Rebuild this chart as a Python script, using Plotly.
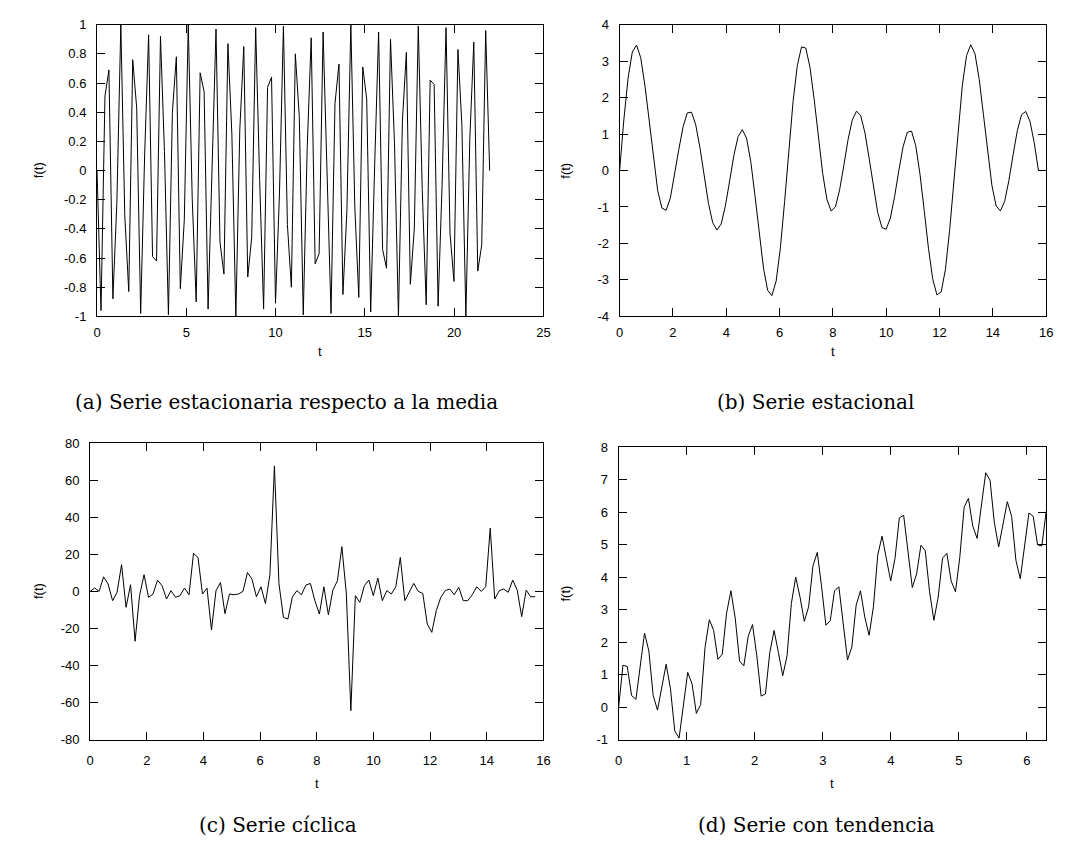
import numpy as np
import plotly.graph_objects as go

# ---------------- data ----------------
# (a) Serie estacionaria respecto a la media : 100 samples on [0, 7*pi]
A_T_END = 21.99
A_VALUES = [
    0, -0.96, 0.51, 0.69, -0.88, -0.22, 1.0, -0.31, -0.83, 0.76,
    0.43, -0.98, 0.10, 0.93, -0.59, -0.62, 0.92, 0.13, -0.99, 0.40,
    0.78, -0.81, -0.34, 1.0, -0.19, -0.90, 0.67, 0.54, -0.95, -0.03,
    0.97, -0.49, -0.71, 0.87, 0.25, -1.0, 0.28, 0.85, -0.73, -0.46,
    0.98, -0.06, -0.95, 0.57, 0.64, -0.91, -0.16, 0.99, -0.37, -0.80,
    0.80, 0.37, -0.99, 0.16, 0.91, -0.64, -0.57, 0.95, 0.06, -0.98,
    0.46, 0.73, -0.85, -0.28, 1.0, -0.25, -0.87, 0.71, 0.49, -0.97,
    0.03, 0.95, -0.54, -0.67, 0.90, 0.19, -1.0, 0.34, 0.81, -0.78,
    -0.40, 0.99, -0.13, -0.92, 0.62, 0.59, -0.93, -0.10, 0.98, -0.43,
    -0.76, 0.83, 0.31, -1.0, 0.22, 0.88, -0.69, -0.51, 0.96, 0,
]

# (b) Serie estacional : 100 samples on [0, 5*pi]
B_T_END = 15.71
B_VALUES = [
    0, 1.39, 2.53, 3.25, 3.44, 3.09, 2.32, 1.31, 0.29, -0.55,
    -1.03, -1.09, -0.75, -0.14, 0.58, 1.20, 1.58, 1.60, 1.25, 0.62,
    -0.16, -0.90, -1.43, -1.63, -1.47, -0.97, -0.29, 0.41, 0.93, 1.12,
    0.89, 0.25, -0.69, -1.73, -2.67, -3.29, -3.43, -3.03, -2.12, -0.85,
    0.57, 1.89, 2.88, 3.39, 3.36, 2.83, 1.94, 0.89, -0.08, -0.79,
    -1.11, -1.00, -0.53, 0.14, 0.85, 1.39, 1.63, 1.50, 1.03, 0.32,
    -0.47, -1.15, -1.56, -1.61, -1.30, -0.71, 0.0, 0.65, 1.05, 1.08,
    0.68, -0.10, -1.10, -2.13, -2.97, -3.41, -3.33, -2.72, -1.64, -0.29,
    1.12, 2.33, 3.15, 3.45, 3.20, 2.50, 1.53, 0.48, -0.41, -0.97,
    -1.11, -0.85, -0.28, 0.43, 1.09, 1.53, 1.62, 1.35, 0.76, 0.0,
]

# (c) Serie cíclica : 100 samples on [0, 5*pi]
C_T_END = 15.71
C_VALUES = [
    0, 1.8, 0, 7.9, 4.0, -5.0, -0.5, 14.4, -8.6, 3.6,
    -26.9, -2.3, 9.0, -3.2, -1.4, 6.1, 3.1, -4.1, 0.4, -3.2,
    -2.3, 1.8, -1.8, 20.5, 18.3, -1.4, 1.8, -20.8, 0.4, 4.8,
    -12.0, -1.4, -1.8, -1.4, 0, 10.2, 6.6, -2.9, 2.5, -6.5,
    9.0, 67.7, 4.3, -14.0, -14.9, -2.9, 0.4, -1.8, 3.4, 4.3,
    -5.0, -12.2, 2.5, -12.6, 0.7, 5.7, 24.1, -1.4, -64.3, -2.3,
    -5.9, 3.1, 6.1, -2.3, 7.2, -5.0, 0.4, -1.4, 2.5, 18.3,
    -5.0, 0, 4.3, 0, -1.1, -17.6, -22.1, -10.4, -3.2, 0.4,
    1.3, -1.8, 2.2, -5.0, -5.0, -1.8, 2.5, 0, 2.5, 34.1,
    -4.1, 0.4, 1.3, -0.5, 6.1, 0.7, -13.6, 0.7, -2.9, -2.9,
]

# (d) Serie con tendencia : 100 samples on [0, 2*pi]
D_T_END = 6.2832
D_VALUES = [
    0, 1.29, 1.25, 0.36, 0.24, 1.27, 2.28, 1.73, 0.36, -0.09,
    0.67, 1.32, 0.57, -0.73, -0.95, 0.12, 1.07, 0.72, -0.19, 0.08,
    1.83, 2.69, 2.36, 1.47, 1.63, 2.89, 3.58, 2.74, 1.42, 1.27,
    2.18, 2.54, 1.58, 0.34, 0.41, 1.68, 2.36, 1.68, 0.97, 1.58,
    3.19, 4.0, 3.39, 2.64, 3.09, 4.35, 4.76, 3.70, 2.52, 2.66,
    3.58, 3.70, 2.48, 1.45, 1.85, 3.14, 3.58, 2.77, 2.21, 3.09,
    4.68, 5.26, 4.56, 3.88, 4.58, 5.82, 5.90, 4.81, 3.68, 4.10,
    4.98, 4.81, 3.55, 2.67, 3.39, 4.58, 4.73, 3.88, 3.55, 4.61,
    6.15, 6.42, 5.57, 5.19, 6.22, 7.21, 6.98, 5.67, 4.93, 5.57,
    6.32, 5.87, 4.51, 3.95, 4.91, 5.97, 5.87, 4.99, 4.96, 6.02,
]

# tick labels
A_XTICKS = [0, 5, 10, 15, 20, 25]
A_YTICKS = [1, 0.8, 0.6, 0.4, 0.2, 0, -0.2, -0.4, -0.6, -0.8, -1]
A_YTEXT = ["1", "0.8", "0.6", "0.4", "0.2", "0", "-0.2", "-0.4", "-0.6", "-0.8", "-1"]
B_XTICKS = [0, 2, 4, 6, 8, 10, 12, 14, 16]
B_YTICKS = [4, 3, 2, 1, 0, -1, -2, -3, -4]
B_YTEXT = ["4", "3", "2", "1", "0", "-1", "-2", "-3", "-4"]
C_XTICKS = [0, 2, 4, 6, 8, 10, 12, 14, 16]
C_YTICKS = [80, 60, 40, 20, 0, -20, -40, -60, -80]
C_YTEXT = ["80", "60", "40", "20", "0", "-20", "-40", "-60", "-80"]
D_XTICKS = [0, 1, 2, 3, 4, 5, 6]
D_YTICKS = [8, 7, 6, 5, 4, 3, 2, 1, 0, -1]
D_YTEXT = ["8", "7", "6", "5", "4", "3", "2", "1", "0", "-1"]

CAPTIONS = ["(a) Serie estacionaria respecto a la media", "(b) Serie estacional",
            "(c) Serie cíclica", "(d) Serie con tendencia"]

# ---------------- layout (pixels) ----------------
W, H = 1071, 842
def px(x):
    return x / W
def py(y):
    return 1 - y / H

panels = [
    # (x0, x1, y_top, y_bottom)
    (94, 545, 18, 315),
    (622, 1053, 18, 315),
    (87, 545, 444, 746),
    (621, 1053, 448, 746),
]
series = [
    (A_T_END, A_VALUES, [0, 25], [-1, 1], A_XTICKS, [str(v) for v in A_XTICKS], A_YTICKS, A_YTEXT),
    (B_T_END, B_VALUES, [0, 16], [-4, 4], B_XTICKS, [str(v) for v in B_XTICKS], B_YTICKS, B_YTEXT),
    (C_T_END, C_VALUES, [0, 16], [-80, 80], C_XTICKS, [str(v) for v in C_XTICKS], C_YTICKS, C_YTEXT),
    (D_T_END, D_VALUES, [0, 6.2832], [-1, 8], D_XTICKS, [str(v) for v in D_XTICKS], D_YTICKS, D_YTEXT),
]
ylabel_x = [35, 567, 35, 567]
tlabel_dy = [36, 36, 45, 45]
xlabel_standoff = [4, 4, 9, 9]
caption_x = [285, 820, 277, 821]
caption_y = [402, 402, 833, 833]

TICKFONT = dict(family="Liberation Sans, Arial, sans-serif", size=13, color="black")
fig = go.Figure()
layout = dict(width=W, height=H, margin=dict(l=0, r=0, t=0, b=0),
              paper_bgcolor="white", plot_bgcolor="white", showlegend=False)
annotations = []

for i, ((x0, x1, yt, yb), (tend, vals, xr, yr, xt, xtt, yt_, ytt)) in enumerate(zip(panels, series)):
    k = "" if i == 0 else str(i + 1)
    tvals = np.linspace(0, tend, len(vals))
    fig.add_trace(go.Scatter(x=tvals, y=vals, mode="lines",
                             line=dict(color="black", width=1),
                             xaxis="x" + k, yaxis="y" + k, hoverinfo="skip"))
    common = dict(showline=True, linecolor="black", linewidth=1, mirror="allticks",
                  ticks="inside", ticklen=8, tickwidth=1, tickcolor="black",
                  showgrid=False, zeroline=False, tickfont=TICKFONT, tickmode="array")
    layout["xaxis" + k] = dict(domain=[px(x0), px(x1)], anchor="y" + k, range=xr,
                               tickvals=xt, ticktext=xtt,
                               ticklabelstandoff=xlabel_standoff[i], **common)
    layout["yaxis" + k] = dict(domain=[py(yb), py(yt)], anchor="x" + k, range=yr,
                               tickvals=yt_, ticktext=ytt, ticklabelstandoff=7, **common)
    cx = (x0 + x1) / 2
    annotations.append(dict(text="t", x=px(cx), y=py(yb + tlabel_dy[i]), xref="paper", yref="paper",
                            showarrow=False, xanchor="center", yanchor="middle",
                            font=TICKFONT))
    annotations.append(dict(text="f(t)", x=px(ylabel_x[i]), y=py((yt + yb) / 2), xref="paper",
                            yref="paper", showarrow=False, textangle=-90,
                            xanchor="center", yanchor="middle", font=TICKFONT))
    annotations.append(dict(text=CAPTIONS[i], x=px(caption_x[i]), y=py(caption_y[i]),
                            xref="paper", yref="paper", showarrow=False,
                            xanchor="center", yanchor="middle",
                            font=dict(family="DejaVu Serif, serif", size=20, color="black")))

layout["annotations"] = annotations
fig.update_layout(**layout)
fig.write_html("out.html")
